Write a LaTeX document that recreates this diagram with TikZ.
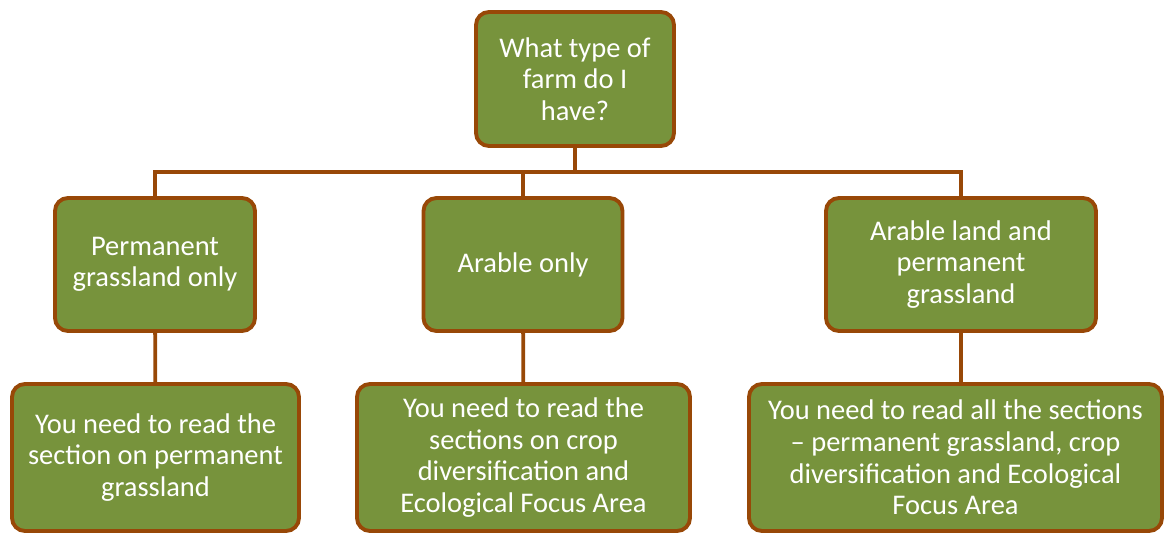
\documentclass[tikz,border=0pt]{standalone}
\usepackage{fontspec}
\setmainfont{Carlito}
\usepackage{tikz}
\usetikzlibrary{positioning,calc}

\definecolor{farmgreen}{RGB}{119,147,60}
\definecolor{farmbrown}{RGB}{152,72,7}

\begin{document}
\begin{tikzpicture}[
    box/.style={draw=farmbrown, line width=2.2pt, rectangle, rounded corners=0.26cm, fill=farmgreen,
        text=white, align=center, font=\fontsize{16.2}{18}\selectfont, inner sep=2pt},
    link/.style={draw=farmbrown, line width=2.2pt}
]
    \useasboundingbox (0,0) rectangle (23.28,-10.66);

    \node[box, minimum width=3.96cm, minimum height=2.68cm] (farm) at (11.5,-1.58) {What type of\\farm do I\\have?};

    \node[box, minimum width=4.0cm, minimum height=2.66cm] (grass) at (3.1,-5.29) {Permanent\\grassland only};
    \node[box, minimum width=3.98cm, minimum height=2.66cm] (arable) at (10.46,-5.29) {Arable only};
    \node[box, minimum width=5.4cm, minimum height=2.66cm] (both) at (19.22,-5.29) {Arable land and\\permanent\\grassland};

    \node[box, minimum width=5.74cm, minimum height=2.94cm] (readgrass) at (3.11,-9.15) {You need to read the\\section on permanent\\grassland};
    \node[box, minimum width=6.66cm, minimum height=2.94cm] (readarable) at (10.47,-9.15) {You need to read the\\sections on crop\\diversification and\\Ecological Focus Area};
    \node[box, minimum width=8.26cm, minimum height=2.94cm] (readall) at (19.11,-9.15) {You need to read all the sections\\-- permanent grassland, crop\\diversification and Ecological\\Focus Area};

    % tree connectors
    \coordinate (split) at (11.5,-3.44);
    \draw[link] (farm) -- (split);
    \draw[link] (split) -| (grass);
    \draw[link] (split) -| (arable);
    \draw[link] (split) -| (both);
    \draw[link] (grass) -- (readgrass);
    \draw[link] (arable) -- (readarable);
    \draw[link] (both.south) -- (both.south |- readall.north);
\end{tikzpicture}
\end{document}
